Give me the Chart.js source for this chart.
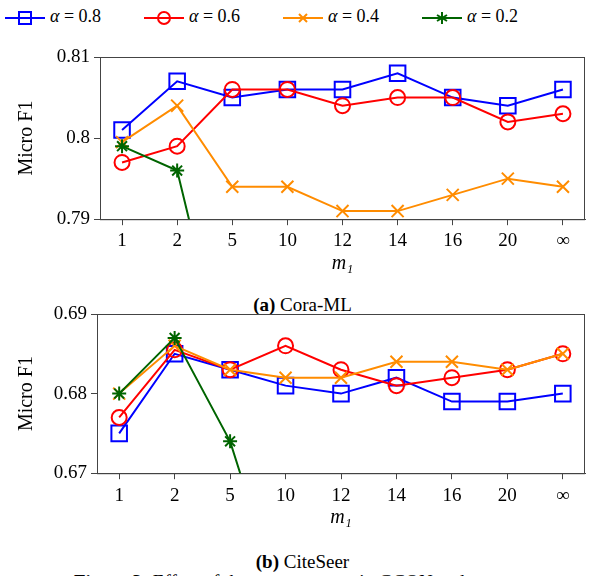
<!DOCTYPE html>
<html>
<head>
<meta charset="utf-8">
<script src="https://cdn.jsdelivr.net/npm/chart.js@4/dist/chart.umd.min.js"></script>
<style>
  body { margin: 0; width: 598px; height: 576px; overflow: hidden; background: #fff; font-family: "Liberation Serif", serif; position: relative; }
  canvas { position: absolute; left: 0; }
  .legend { position: absolute; top: 5px; left: 0; width: 598px; height: 24px; }
  .item { position: absolute; top: 0; font-size: 18px; line-height: 22px; white-space: nowrap; }
  .item svg { vertical-align: middle; margin-right: 5px; }
  .caption { position: absolute; left: 0; width: 605px; text-align: center; font-size: 19px; }
  .fig { position: absolute; left: 74px; top: 571px; font-size: 19px; white-space: nowrap; }
</style>
</head>
<body>
<div class="legend">
  <div class="item" style="left:5px"><svg width="40" height="20"><line x1="0" y1="10" x2="40" y2="10" stroke="#0000ff" stroke-width="2"/><rect x="14" y="4" width="12" height="12" fill="none" stroke="#0000ff" stroke-width="2"/></svg><i>α</i> = 0.8</div>
  <div class="item" style="left:144px"><svg width="40" height="20"><line x1="0" y1="10" x2="40" y2="10" stroke="#ff0000" stroke-width="2"/><circle cx="20" cy="10" r="6" fill="none" stroke="#ff0000" stroke-width="2"/></svg><i>α</i> = 0.6</div>
  <div class="item" style="left:283px"><svg width="40" height="20"><line x1="0" y1="10" x2="40" y2="10" stroke="#ff8c00" stroke-width="2"/><path d="M16 6 L24 14 M24 6 L16 14" stroke="#ff8c00" stroke-width="2"/></svg><i>α</i> = 0.4</div>
  <div class="item" style="left:422px"><svg width="40" height="20"><line x1="0" y1="10" x2="40" y2="10" stroke="#006400" stroke-width="2"/><path d="M20 4 L20 16 M15 7 L25 13 M25 7 L15 13" stroke="#006400" stroke-width="2"/></svg><i>α</i> = 0.2</div>
</div>
<canvas id="cora" width="598" height="242" style="top:40px"></canvas>
<div class="caption" style="top:294px"><b>(a)</b> Cora-ML</div>
<canvas id="citeseer" width="598" height="235" style="top:298px"></canvas>
<div class="caption" style="top:551px"><b>(b)</b> CiteSeer</div>
<div class="fig"><b>Figure 3:</b> Effect of the parameter <i>m</i><sub>1</sub> in GCON and parameter <i>α</i></div>
<script>
const categories = ['1', '2', '5', '10', '12', '14', '16', '20', '∞'];
const alphaLabels = ['α = 0.8', 'α = 0.6', 'α = 0.4', 'α = 0.2'];

// Cora-ML
const coraA08 = [0.801, 0.807, 0.805, 0.806, 0.806, 0.808, 0.805, 0.804, 0.806];
const coraA06 = [0.797, 0.799, 0.806, 0.806, 0.804, 0.805, 0.805, 0.802, 0.803];
const coraA04 = [0.7995, 0.804, 0.794, 0.794, 0.791, 0.791, 0.793, 0.795, 0.794];
const coraA02 = [0.799, 0.796, 0.768, null, null, null, null, null, null];
const coraYTicks = [0.79, 0.8, 0.81];

// CiteSeer
const citeA08 = [0.675, 0.685, 0.683, 0.681, 0.680, 0.682, 0.679, 0.679, 0.680];
const citeA06 = [0.677, 0.6855, 0.683, 0.686, 0.683, 0.681, 0.682, 0.683, 0.685];
const citeA04 = [0.680, 0.686, 0.683, 0.682, 0.682, 0.684, 0.684, 0.683, 0.685];
const citeA02 = [0.680, 0.687, 0.674, 0.652, null, null, null, null, null];
const citeYTicks = [0.67, 0.68, 0.69];

const FONT = 'Liberation Serif';
const AXIS = '#444';

// box around the plot area
const frame = {
  id: 'frame',
  beforeDatasetsDraw(chart) {
    const a = chart.chartArea, ctx = chart.ctx;
    ctx.save();
    ctx.strokeStyle = AXIS;
    ctx.lineWidth = 1;
    ctx.strokeRect(a.left + 0.5, a.top + 0.5, a.right - a.left - 1, a.bottom - a.top);
    ctx.restore();
  }
};

function series(values, label, color, style, radius, order) {
  return {
    label: label,
    data: values.map((v, i) => ({ x: i, y: v })),
    borderColor: color,
    borderWidth: 2,
    pointStyle: style,
    pointRadius: radius,
    pointHoverRadius: radius,
    pointBorderColor: color,
    pointBorderWidth: 2,
    pointBackgroundColor: 'rgba(0,0,0,0)',
    spanGaps: false,
    order: order
  };
}

function makeChart(id, sets, yTicks, leftWidth, pad, tickPad, titlePad) {
  new Chart(document.getElementById(id), {
    type: 'line',
    data: {
      datasets: [
        series(sets[0], alphaLabels[0], '#0000ff', 'rect', 11, 4),
        series(sets[1], alphaLabels[1], '#ff0000', 'circle', 7.5, 3),
        series(sets[2], alphaLabels[2], '#ff8c00', 'crossRot', 8.5, 2),
        series(sets[3], alphaLabels[3], '#006400', 'star', 7, 1)
      ]
    },
    options: {
      responsive: false,
      animation: false,
      layout: { padding: pad },
      plugins: { legend: { display: false }, tooltip: { enabled: false } },
      scales: {
        x: {
          type: 'linear',
          min: -0.4,
          max: 8.4,
          afterBuildTicks: s => { s.ticks = categories.map((c, i) => ({ value: i })); },
          ticks: {
            callback: v => categories[v],
            color: '#000',
            font: { family: FONT, size: 19 },
            padding: tickPad,
            maxRotation: 0
          },
          grid: { drawOnChartArea: false, drawTicks: true, tickLength: 6, color: AXIS },
          border: { display: true, color: AXIS },
          title: {
            display: true,
            text: 'm₁',
            color: '#000',
            font: { family: FONT, size: 20, style: 'italic' },
            padding: { top: titlePad, bottom: 0 }
          }
        },
        y: {
          min: yTicks[0],
          max: yTicks[yTicks.length - 1],
          afterBuildTicks: s => { s.ticks = yTicks.map(v => ({ value: v })); },
          afterFit: s => { s.width = leftWidth; },
          ticks: {
            callback: v => String(v),
            color: '#000',
            font: { family: FONT, size: 19 },
            padding: 4
          },
          grid: { drawOnChartArea: false, drawTicks: true, tickLength: 6, color: AXIS },
          border: { display: true, color: AXIS },
          title: {
            display: true,
            text: 'Micro F1',
            color: '#000',
            font: { family: FONT, size: 20 },
            padding: { top: 15, bottom: 4 }
          }
        }
      }
    },
    plugins: [frame]
  });
}

makeChart('cora', [coraA08, coraA06, coraA04, coraA02], coraYTicks, 100, { top: 17, right: 9, bottom: 6, left: 0 }, 4, -4);
makeChart('citeseer', [citeA08, citeA06, citeA04, citeA02], citeYTicks, 97, { top: 16, right: 11, bottom: 3, left: 0 }, 5, -6);
</script>
</body>
</html>
